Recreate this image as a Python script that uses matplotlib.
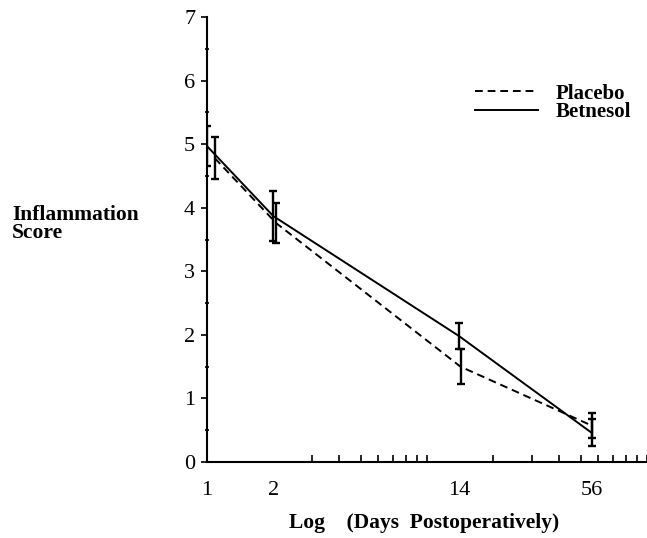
import matplotlib
matplotlib.use('Agg')
import matplotlib.pyplot as plt
from matplotlib.ticker import LogLocator, NullFormatter, MultipleLocator

# data
days = [1, 2, 14, 56]
day_labels = ['1', '2', '14', '56']

# placebo points sit slightly to the right in the original
placebo_days = [1.085, 2.06, 14.2, 56.3]
placebo = [4.78, 3.76, 1.50, 0.57]
placebo_err = [0.33, 0.31, 0.28, 0.20]

betnesol_days = [1, 2, 14, 56]
betnesol = [4.97, 3.87, 1.98, 0.46]
betnesol_err = [0.31, 0.40, 0.20, 0.21]

plt.rcParams['font.family'] = ['Liberation Serif', 'DejaVu Serif']

fig = plt.figure(figsize=(6.47, 5.38), dpi=100)
ax = fig.add_axes([0.32, 0.1413, 0.68, 0.8268])

ax.plot(placebo_days, placebo, color='black', lw=1.4, linestyle=(0, (4, 2.5)), label='Placebo')
ax.plot(betnesol_days, betnesol, color='black', lw=1.4, label='Betnesol')
ax.errorbar(placebo_days, placebo, yerr=placebo_err, fmt='none', ecolor='black',
            elinewidth=1.7, capsize=2.8, capthick=1.7)
ax.errorbar(betnesol_days, betnesol, yerr=betnesol_err, fmt='none', ecolor='black',
            elinewidth=1.7, capsize=2.8, capthick=1.7)

ax.set_xscale('log')
ax.set_xlim(1, 100)
ax.set_ylim(0, 7)

ax.spines['top'].set_visible(False)
ax.spines['right'].set_visible(False)
ax.spines['left'].set_linewidth(1.5)
ax.spines['bottom'].set_linewidth(1.5)

ax.set_xticks(days)
ax.set_xticklabels(day_labels)
ax.xaxis.set_minor_locator(LogLocator(base=10, subs=range(1, 10)))
ax.xaxis.set_minor_formatter(NullFormatter())
ax.tick_params(axis='x', which='major', length=0, pad=14, labelsize=16)
ax.tick_params(axis='x', which='minor', direction='in', length=5, width=1.2)

ax.yaxis.set_major_locator(MultipleLocator(1))
ax.yaxis.set_minor_locator(MultipleLocator(0.5))
ax.tick_params(axis='y', which='major', direction='out', length=4.5, width=1.2, pad=4, labelsize=16)
ax.tick_params(axis='y', which='minor', direction='inout', length=3, width=1.2)

fig.text(0.019, 0.584, 'Inflammation\nScore', fontsize=15.5, fontweight='bold',
         ha='left', va='center', linespacing=0.85)
fig.text(0.655, 0.028, 'Log    (Days  Postoperatively)', fontsize=15.5, fontweight='bold',
         ha='center', va='center')

leg = ax.legend(loc='upper left', bbox_to_anchor=(0.567, 0.893), frameon=False,
                prop={'size': 15, 'weight': 'bold'}, handlelength=3.0,
                handletextpad=0.85, labelspacing=-0.05)

fig.savefig('out.png', dpi=100)
